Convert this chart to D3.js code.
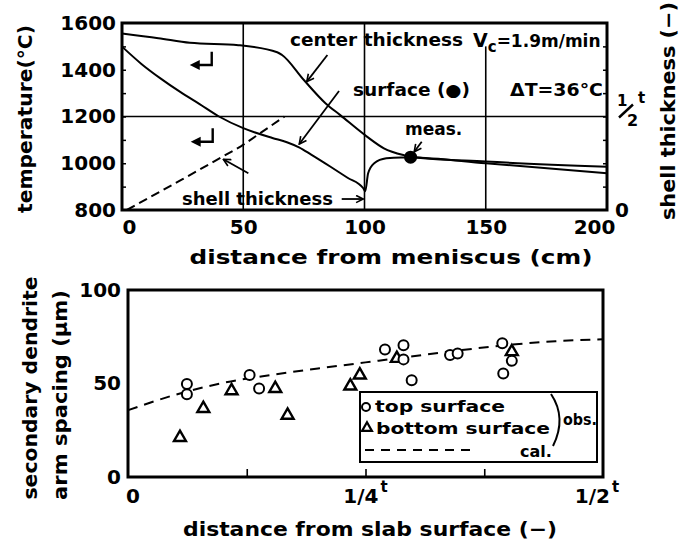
<!DOCTYPE html>
<html>
<head>
<meta charset="utf-8">
<script src="https://cdn.jsdelivr.net/npm/d3@7"></script>
<style>
body { margin: 0; background: #fff; }
svg { display: block; }
text { font-family: "DejaVu Sans", sans-serif; font-weight: bold; fill: #000; }
</style>
</head>
<body>
<svg id="chart" width="679" height="541"></svg>
<script>
/* ---------- top plot : temperature along the strand ---------- */
const distCenter = [0, 15, 28, 48, 64, 66, 75, 84, 90, 101, 108, 116, 119, 150, 200];
const tempCenter = [1555, 1535, 1515, 1505, 1475, 1463, 1356, 1256, 1206, 1114, 1064, 1035, 1028, 1007, 985];
const distSurface = [0, 8, 16, 24, 32, 40, 50, 62, 68, 73, 78, 86, 93, 99.5, 100.3, 101.5, 104, 109, 115, 119, 150, 200];
const tempSurface = [1499, 1425, 1362, 1305, 1253, 1200, 1150, 1108, 1090, 1068, 1037, 985, 938, 893, 880, 957, 1000, 1021, 1025, 1025, 1000, 957];
const distShell = [2, 25, 49, 67];
const shellThick = [0, 0.165, 0.34, 0.5];   // fraction of slab thickness
const measDist = [119];
const measTemp = [1026];
const topXTicks = [0, 50, 100, 150, 200];
const topYTicks = [800, 1000, 1200, 1400, 1600];

/* ---------- bottom plot : secondary dendrite arm spacing ---------- */
const topSurfPos = [0.062, 0.062, 0.128, 0.138, 0.2705, 0.29, 0.29, 0.2986, 0.339, 0.347, 0.394, 0.395, 0.404];
const topSurfSdas = [49.7, 44.3, 54.5, 47.3, 68.2, 70.5, 62.9, 51.8, 65.2, 66.1, 71.5, 55.4, 62.1];
const botSurfPos = [0.0547, 0.0793, 0.109, 0.155, 0.168, 0.234, 0.244, 0.283, 0.404];
const botSurfSdas = [21.1, 36.6, 46.1, 47.3, 33.0, 48.6, 54.5, 63.4, 67.0];
const calPos = [0, 0.05, 0.1, 0.15, 0.2, 0.25, 0.3, 0.35, 0.4, 0.45, 0.5];
const calSdas = [35.7, 44, 50.3, 54.5, 58, 61.3, 64.6, 67.8, 70.6, 72.6, 73.6];
const botXTicks = [0, 0.25, 0.5];
const botXLabels = ["0", "1/4", "1/2"];
const botYTicks = [0, 50, 100];

const svg = d3.select("#chart");

// arrow head for the annotations
svg.append("defs").append("marker")
  .attr("id", "arr")
  .attr("viewBox", "0 0 10 10")
  .attr("refX", 9).attr("refY", 5)
  .attr("markerWidth", 9).attr("markerHeight", 9)
  .attr("markerUnits", "userSpaceOnUse")
  .attr("orient", "auto")
  .append("path")
  .attr("d", "M1,1 L9,5 L1,9")
  .attr("fill", "none").attr("stroke", "#000").attr("stroke-width", 1.8);

/* ************ TOP PLOT ************ */
const x1 = d3.scaleLinear().domain([0, 200]).range([122, 607]);
const y1 = d3.scaleLinear().domain([800, 1600]).range([210, 23]);
const yS = d3.scaleLinear().domain([0, 1]).range([210, 23]);

const topG = svg.append("g");

// grid lines
topG.append("line")
  .attr("x1", x1(0)).attr("x2", x1(200))
  .attr("y1", y1(1200)).attr("y2", y1(1200))
  .attr("stroke", "#000").attr("stroke-width", 1.6);
[[50, 1600], [100, 1600], [150, 1500]].forEach(function(g) {
  topG.append("line")
    .attr("x1", x1(g[0])).attr("x2", x1(g[0]))
    .attr("y1", y1(800)).attr("y2", y1(g[1]))
    .attr("stroke", "#000").attr("stroke-width", 1.6);
});

// inner small ticks
topG.append("g")
  .attr("transform", `translate(${x1(0)},0)`)
  .call(d3.axisLeft(y1).tickValues(d3.range(900, 1600, 100)).tickSize(-4).tickFormat(""))
  .call(g => g.select(".domain").remove())
  .selectAll("line").attr("stroke-width", 1.5);
topG.append("g")
  .attr("transform", `translate(${x1(200)},0)`)
  .call(d3.axisRight(y1).tickValues(d3.range(900, 1600, 100)).tickSize(-4).tickFormat(""))
  .call(g => g.select(".domain").remove())
  .selectAll("line").attr("stroke-width", 1.5);

// frame
topG.append("rect")
  .attr("x", x1(0)).attr("y", y1(1600))
  .attr("width", x1(200) - x1(0)).attr("height", y1(800) - y1(1600))
  .attr("fill", "none").attr("stroke", "#000").attr("stroke-width", 3);

// curves
const lineT = d3.line().x(d => x1(d[0])).y(d => y1(d[1])).curve(d3.curveMonotoneX);
topG.append("path")
  .attr("d", lineT(d3.zip(distCenter, tempCenter)))
  .attr("fill", "none").attr("stroke", "#000").attr("stroke-width", 2);
topG.append("path")
  .attr("d", lineT(d3.zip(distSurface, tempSurface)))
  .attr("fill", "none").attr("stroke", "#000").attr("stroke-width", 2);
topG.append("path")
  .attr("d", d3.line().x(d => x1(d[0])).y(d => yS(d[1]))(d3.zip(distShell, shellThick)))
  .attr("fill", "none").attr("stroke", "#000").attr("stroke-width", 2)
  .attr("stroke-dasharray", "9,5");

topG.selectAll(".meas").data(d3.zip(measDist, measTemp)).enter().append("circle")
  .attr("cx", d => x1(d[0])).attr("cy", d => y1(d[1]))
  .attr("r", 6.5).attr("fill", "#000");

// tick labels
topG.append("g")
  .attr("transform", `translate(${x1(0)},0)`)
  .call(d3.axisLeft(y1).tickValues(topYTicks).tickSize(0).tickPadding(6).tickFormat(d3.format("d")))
  .call(g => g.select(".domain").remove())
  .selectAll("text").attr("font-size", 20).attr("font-family", "DejaVu Sans");
topG.append("g")
  .attr("transform", `translate(0,${y1(800)})`)
  .call(d3.axisBottom(x1).tickValues(topXTicks).tickSize(0).tickPadding(9.5).tickFormat(d3.format("d")))
  .call(g => g.select(".domain").remove())
  .selectAll("text").attr("font-size", 20).attr("font-family", "DejaVu Sans")
  .attr("dx", (d, i) => i == 0 ? 7 : (i == topXTicks.length - 1 ? -13 : 0));

// right axis : shell thickness
topG.append("text").attr("x", x1(200) + 8).attr("y", yS(0) + 7)
  .attr("font-size", 20).text("0");
topG.append("text").attr("x", x1(200) + 10).attr("y", yS(0.5) - 11)
  .attr("font-size", 15).text("1");
topG.append("line")
  .attr("x1", x1(200) + 12).attr("y1", yS(0.5) + 1)
  .attr("x2", x1(200) + 26).attr("y2", yS(0.5) - 12)
  .attr("stroke", "#000").attr("stroke-width", 2.4);
topG.append("text").attr("x", x1(200) + 20).attr("y", yS(0.5) + 9)
  .attr("font-size", 16).text("2");
topG.append("text").attr("x", x1(200) + 31).attr("y", yS(0.5) - 14)
  .attr("font-size", 15).text("t");

// axis titles
topG.append("text")
  .attr("transform", "translate(32,119) rotate(-90)")
  .attr("text-anchor", "middle").attr("font-size", 20)
  .attr("textLength", 188).attr("lengthAdjust", "spacingAndGlyphs")
  .text("temperature(°C)");
topG.append("text")
  .attr("transform", "translate(675,111) rotate(-90)")
  .attr("text-anchor", "middle").attr("font-size", 20)
  .attr("textLength", 218).attr("lengthAdjust", "spacingAndGlyphs")
  .text("shell thickness (−)");
topG.append("text")
  .attr("x", 391).attr("y", 264)
  .attr("text-anchor", "middle").attr("font-size", 20)
  .attr("textLength", 403).attr("lengthAdjust", "spacingAndGlyphs")
  .text("distance from meniscus (cm)");

// annotations
topG.append("text").attr("x", 290).attr("y", 46).attr("font-size", 17)
  .attr("textLength", 173).attr("lengthAdjust", "spacingAndGlyphs")
  .text("center thickness");
const vc = topG.append("text").attr("x", 473).attr("y", 47).attr("font-size", 17);
vc.append("tspan").attr("font-size", 19).text("V");
vc.append("tspan").attr("dy", 5).attr("font-size", 15).text("c");
vc.append("tspan").attr("dy", -5).text("=1.9m/min");
topG.append("text").attr("x", 353).attr("y", 96).attr("font-size", 17)
  .attr("textLength", 117).attr("lengthAdjust", "spacingAndGlyphs")
  .text("surface (●)");
topG.append("text").attr("x", 510).attr("y", 96).attr("font-size", 18)
  .attr("textLength", 93).attr("lengthAdjust", "spacingAndGlyphs")
  .text("ΔT=36°C");
topG.append("text").attr("x", 405).attr("y", 135).attr("font-size", 17)
  .text("meas.");
topG.append("text").attr("x", 182).attr("y", 205).attr("font-size", 18)
  .attr("textLength", 151).attr("lengthAdjust", "spacingAndGlyphs")
  .text("shell thickness");

const arrows = [
  [84.7, 1463, 76.2, 1349],
  [89.5, 1309, 73.1, 1082],
  [123.6, 1092, 120.5, 1049],
  [52.1, 957, 41.8, 1017],
  [90.6, 847, 99.5, 847]
];
topG.selectAll(".ann").data(arrows).enter().append("line")
  .attr("x1", d => x1(d[0])).attr("y1", d => y1(d[1]))
  .attr("x2", d => x1(d[2])).attr("y2", d => y1(d[3]))
  .attr("stroke", "#000").attr("stroke-width", 1.8)
  .attr("marker-end", "url(#arr)");

// the little "read on left axis" arrows
[[37, 1477, 1420], [37.4, 1150, 1092]].forEach(function(a) {
  const xv = x1(a[0]), yt = y1(a[1]), yb = y1(a[2]);
  topG.append("path")
    .attr("d", `M${xv},${yt} L${xv},${yb} L${xv - 13},${yb}`)
    .attr("fill", "none").attr("stroke", "#000").attr("stroke-width", 2.4);
  topG.append("path")
    .attr("d", `M${xv - 22},${yb} L${xv - 12},${yb - 5} L${xv - 12},${yb + 5} Z`)
    .attr("fill", "#000");
});

/* ************ BOTTOM PLOT ************ */
const x2 = d3.scaleLinear().domain([0, 0.5]).range([128, 603]);
const y2 = d3.scaleLinear().domain([0, 100]).range([477, 290]);

const botG = svg.append("g");

botG.append("g")
  .attr("transform", `translate(0,${y2(0)})`)
  .call(d3.axisBottom(x2).tickValues([0.125, 0.25, 0.375]).tickSize(-8).tickFormat(""))
  .call(g => g.select(".domain").remove())
  .selectAll("line").attr("stroke-width", 1.6);

botG.append("rect")
  .attr("x", x2(0)).attr("y", y2(100))
  .attr("width", x2(0.5) - x2(0)).attr("height", y2(0) - y2(100))
  .attr("fill", "none").attr("stroke", "#000").attr("stroke-width", 3);

// calculated line
botG.append("path")
  .attr("d", d3.line().x(d => x2(d[0])).y(d => y2(d[1])).curve(d3.curveMonotoneX)(d3.zip(calPos, calSdas)))
  .attr("fill", "none").attr("stroke", "#000").attr("stroke-width", 2)
  .attr("stroke-dasharray", "10,7");

// observed points
botG.selectAll(".tri").data(d3.zip(botSurfPos, botSurfSdas)).enter().append("path")
  .attr("d", d3.symbol().type(d3.symbolTriangle).size(62))
  .attr("transform", d => `translate(${x2(d[0])},${y2(d[1])})`)
  .attr("fill", "#fff").attr("stroke", "#000").attr("stroke-width", 2.4);
botG.selectAll(".cir").data(d3.zip(topSurfPos, topSurfSdas)).enter().append("circle")
  .attr("cx", d => x2(d[0])).attr("cy", d => y2(d[1]))
  .attr("r", 5).attr("fill", "#fff").attr("stroke", "#000").attr("stroke-width", 2);

// tick labels
botG.append("g")
  .attr("transform", `translate(${x2(0)},0)`)
  .call(d3.axisLeft(y2).tickValues(botYTicks).tickSize(0).tickPadding(7))
  .call(g => g.select(".domain").remove())
  .selectAll("text").attr("font-size", 20).attr("font-family", "DejaVu Sans");

const xl = botG.selectAll(".xl").data(botXTicks).enter().append("text")
  .attr("x", (d, i) => x2(d) + (i == 0 ? 5 : (i == 1 ? 0 : -6)))
  .attr("y", 503)
  .attr("text-anchor", "middle")
  .attr("font-size", 20);
xl.append("tspan").text((d, i) => botXLabels[i]);
xl.append("tspan").attr("dy", -11).attr("dx", 2).attr("font-size", 15)
  .text((d, i) => i == 0 ? "" : "t");

// axis titles
botG.append("text")
  .attr("transform", "translate(37,388) rotate(-90)")
  .attr("text-anchor", "middle").attr("font-size", 20)
  .attr("textLength", 223).attr("lengthAdjust", "spacingAndGlyphs")
  .text("secondary dendrite");
botG.append("text")
  .attr("transform", "translate(67,395) rotate(-90)")
  .attr("text-anchor", "middle").attr("font-size", 20)
  .attr("textLength", 210).attr("lengthAdjust", "spacingAndGlyphs")
  .text("arm spacing (μm)");
botG.append("text")
  .attr("x", 370).attr("y", 536)
  .attr("text-anchor", "middle").attr("font-size", 20)
  .attr("textLength", 374).attr("lengthAdjust", "spacingAndGlyphs")
  .text("distance from slab surface (−)");

// legend
const lg = botG.append("g");
lg.append("rect").attr("x", 360).attr("y", 392).attr("width", 237).attr("height", 70)
  .attr("fill", "#fff").attr("stroke", "#000").attr("stroke-width", 2);
lg.append("circle").attr("cx", 366).attr("cy", 407).attr("r", 4)
  .attr("fill", "#fff").attr("stroke", "#000").attr("stroke-width", 2);
lg.append("path").attr("d", d3.symbol().type(d3.symbolTriangle).size(42))
  .attr("transform", "translate(367,428)")
  .attr("fill", "#fff").attr("stroke", "#000").attr("stroke-width", 2.2);
lg.append("line").attr("x1", 365).attr("x2", 470).attr("y1", 450).attr("y2", 450)
  .attr("stroke", "#000").attr("stroke-width", 2).attr("stroke-dasharray", "9,7");
lg.append("text").attr("x", 375).attr("y", 412).attr("font-size", 16)
  .attr("textLength", 130).attr("lengthAdjust", "spacingAndGlyphs").text("top surface");
lg.append("text").attr("x", 376).attr("y", 434).attr("font-size", 16)
  .attr("textLength", 174).attr("lengthAdjust", "spacingAndGlyphs").text("bottom surface");
lg.append("path").attr("d", "M551,394 Q567,418 553,446")
  .attr("fill", "none").attr("stroke", "#000").attr("stroke-width", 2);
lg.append("text").attr("x", 563).attr("y", 425).attr("font-size", 16)
  .attr("textLength", 34).attr("lengthAdjust", "spacingAndGlyphs").text("obs.");
lg.append("text").attr("x", 520).attr("y", 457).attr("font-size", 16).text("cal.");
</script>
</body>
</html>
